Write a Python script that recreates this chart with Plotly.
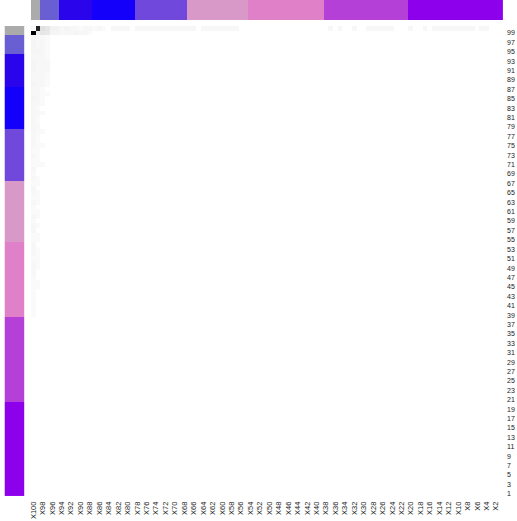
import plotly.graph_objects as go

# ---------------- data ----------------
n = 100
col_labels = [f"X{i}" for i in range(100, 0, -1)]          # left -> right
row_labels = [str(i) for i in range(1, 101)]                 # bottom -> top
x_ticks = [f"X{i}" for i in range(100, 0, -2)]
y_ticks = [str(i) for i in range(1, 100, 2)]

cluster_sizes = [2, 4, 7, 9, 11, 13, 16, 18, 20]             # from X100/100 downwards
cluster_colors = ["#ababab", "#6a5fd2", "#2a05ec", "#1400fa", "#7048dc",
                  "#d898c8", "#e080c8", "#b440d8", "#8c00ec"]

# strong cells (row label, column label, value)
strong_rows = ["99", "100", "100", "100", "99", "99"]
strong_cols = ["X100", "X99", "X98", "X97", "X98", "X97"]
strong_vals = [1.00, 0.86, 0.12, 0.10, 0.10, 0.09]

# faint values along top row (row 100), columns X100..X1, in percent
row100_pct = [2, 0, 0, 0, 5, 5, 3, 4, 3, 3, 2, 3, 3, 2, 3, 2, 0, 3, 3, 3,
              3, 0, 3, 3, 3, 3, 3, 3, 3, 3, 3, 3, 3, 3, 3, 0, 3, 3, 3, 3,
              3, 3, 3, 3, 0, 0, 0, 0, 0, 0, 0, 0, 0, 0, 0, 0, 0, 0, 0, 0,
              0, 0, 0, 3, 0, 3, 0, 0, 3, 0, 0, 3, 3, 3, 3, 3, 3, 0, 0, 0,
              3, 0, 0, 3, 0, 3, 3, 3, 3, 3, 3, 3, 3, 3, 0, 3, 3, 0, 0, 0]
# faint values along row 99, columns X100..X1, in percent
row99_pct = [0, 6, 0, 0, 4, 4, 3, 3, 3, 4, 3, 3, 2, 0, 0, 0, 0, 0, 0, 0,
             0, 0, 0, 0, 0, 0, 0, 0, 0, 0, 0, 0, 0, 0, 0, 0, 0, 0, 0, 0,
             0, 0, 0, 0, 0, 0, 0, 0, 0, 0, 0, 0, 0, 0, 0, 0, 0, 0, 0, 0,
             0, 0, 0, 0, 0, 0, 0, 0, 0, 0, 0, 0, 0, 0, 0, 0, 0, 0, 0, 0,
             0, 0, 0, 0, 0, 0, 0, 0, 0, 0, 0, 0, 0, 0, 0, 0, 0, 0, 0, 0]
# faint values down the first columns, rows 100..1, in percent
colX100_pct = [0, 0, 4, 4, 4, 4, 3, 4, 4, 4, 3, 3, 4, 3, 3, 4, 3, 3, 3, 3,
               3, 3, 3, 3, 3, 3, 2, 3, 2, 2, 3, 2, 3, 2, 3, 3, 2, 3, 2, 2,
               3, 2, 3, 3, 2, 2, 3, 3, 3, 2, 3, 3, 3, 2, 2, 2, 2, 2, 2, 2,
               2, 2, 0, 0, 0, 0, 0, 0, 0, 0, 0, 0, 0, 0, 0, 0, 0, 0, 0, 0,
               0, 0, 0, 0, 0, 0, 0, 0, 0, 0, 0, 0, 0, 0, 0, 0, 0, 0, 0, 0]
colX99_pct = [0, 0, 3, 3, 3, 4, 3, 3, 3, 3, 3, 3, 3, 3, 3, 3, 3, 2, 3, 2,
              2, 3, 2, 2, 2, 2, 2, 2, 2, 2, 0, 0, 2, 2, 0, 2, 2, 2, 0, 2,
              2, 0, 2, 0, 2, 2, 0, 2, 2, 2, 2, 2, 0, 0, 2, 2, 0, 0, 0, 0,
              0, 0, 0, 0, 0, 0, 0, 0, 0, 0, 0, 0, 0, 0, 0, 0, 0, 0, 0, 0,
              0, 0, 0, 0, 0, 0, 0, 0, 0, 0, 0, 0, 0, 0, 0, 0, 0, 0, 0, 0]
colX98_pct = [0, 0, 3, 3, 3, 3, 3, 3, 3, 3, 3, 3, 3, 2, 2, 2, 2, 0, 2, 0,
              0, 0, 2, 0, 0, 2, 0, 0, 0, 2, 0, 0, 0, 0, 0, 0, 0, 0, 0, 0,
              0, 0, 0, 0, 0, 0, 0, 0, 0, 0, 0, 0, 0, 0, 0, 0, 0, 0, 0, 0,
              0, 0, 0, 0, 0, 0, 0, 0, 0, 0, 0, 0, 0, 0, 0, 0, 0, 0, 0, 0,
              0, 0, 0, 0, 0, 0, 0, 0, 0, 0, 0, 0, 0, 0, 0, 0, 0, 0, 0, 0]
colX97_pct = [0, 0, 2, 2, 2, 2, 2, 3, 3, 3, 2, 2, 2, 0, 2, 0, 0, 0, 0, 0,
              0, 0, 0, 0, 0, 0, 0, 0, 0, 0, 0, 0, 0, 0, 0, 0, 0, 0, 0, 0,
              0, 0, 0, 0, 0, 0, 0, 0, 0, 0, 0, 0, 0, 0, 0, 0, 0, 0, 0, 0,
              0, 0, 0, 0, 0, 0, 0, 0, 0, 0, 0, 0, 0, 0, 0, 0, 0, 0, 0, 0,
              0, 0, 0, 0, 0, 0, 0, 0, 0, 0, 0, 0, 0, 0, 0, 0, 0, 0, 0, 0]

# ---------------- build matrix ----------------
ri = {r: i for i, r in enumerate(row_labels)}
ci = {c: j for j, c in enumerate(col_labels)}
z = [[0.0] * n for _ in range(n)]
for j, v in enumerate(row100_pct):
    z[ri["100"]][j] = max(z[ri["100"]][j], v / 100)
for j, v in enumerate(row99_pct):
    z[ri["99"]][j] = max(z[ri["99"]][j], v / 100)
for cname, lst in [("X100", colX100_pct), ("X99", colX99_pct),
                   ("X98", colX98_pct), ("X97", colX97_pct)]:
    for k, v in enumerate(lst):
        r = str(100 - k)
        z[ri[r]][ci[cname]] = max(z[ri[r]][ci[cname]], v / 100)
for r, c, v in zip(strong_rows, strong_cols, strong_vals):
    z[ri[r]][ci[c]] = v

# cluster assignment (from X100 / row 100 downwards)
groups_desc = []
for g, s in enumerate(cluster_sizes):
    groups_desc += [g] * s
col_groups = groups_desc                     # X100..X1
row_groups = groups_desc[::-1]               # rows 1..100

ng = len(cluster_colors)
cscale = []
for g, c in enumerate(cluster_colors):
    cscale.append([g / ng, c])
    cscale.append([(g + 1) / ng, c])

W, H = 517, 521
fig = go.Figure()
fig.add_trace(go.Heatmap(z=z, x=col_labels, y=row_labels, zmin=0, zmax=1,
                         colorscale=[[0, "#ffffff"], [1, "#000000"]],
                         showscale=False, xaxis="x", yaxis="y"))
fig.add_trace(go.Heatmap(z=[col_groups], x=col_labels, y=["c"], zmin=-0.5, zmax=ng - 0.5,
                         colorscale=cscale, showscale=False, xaxis="x2", yaxis="y2"))
fig.add_trace(go.Heatmap(z=[[g] for g in row_groups], x=["r"], y=row_labels, zmin=-0.5,
                         zmax=ng - 0.5, colorscale=cscale, showscale=False,
                         xaxis="x3", yaxis="y3"))

xfont = dict(family="Arial, Liberation Sans, sans-serif", size=7.5, color="#1a1a1a")
yfont = dict(family="Arial, Liberation Sans, sans-serif", size=7, color="#1a1a1a")
x0, x1 = 29 / W, 503 / W
y0, y1 = 1 - 497 / H, 1 - 26 / H
fig.update_layout(
    width=W, height=H, margin=dict(l=0, r=0, t=0, b=0),
    paper_bgcolor="white", plot_bgcolor="white", showlegend=False,
    xaxis=dict(domain=[x0, x1], anchor="y", categoryorder="array", categoryarray=col_labels,
               tickmode="array", tickvals=x_ticks, ticktext=x_ticks, tickangle=-90,
               tickfont=xfont, showgrid=False, zeroline=False, showline=False, ticks="",
               ticklabelstandoff=3),
    yaxis=dict(domain=[y0, y1], anchor="x", side="right", categoryorder="array",
               categoryarray=row_labels, tickmode="array", tickvals=y_ticks, ticktext=y_ticks,
               tickfont=yfont, showgrid=False, zeroline=False, showline=False, ticks="",
               ticklabelstandoff=3),
    xaxis2=dict(domain=[x0, x1], anchor="y2", matches="x", visible=False),
    yaxis2=dict(domain=[1 - 20 / H, 1], anchor="x2", visible=False),
    xaxis3=dict(domain=[2.5 / W, 22.5 / W], anchor="y3", visible=False),
    yaxis3=dict(domain=[y0, y1], anchor="x3", matches="y", visible=False),
)
fig.write_html("out.html", config={"displayModeBar": False},
               post_script="document.body.style.margin='0';document.body.style.overflow='hidden';")
